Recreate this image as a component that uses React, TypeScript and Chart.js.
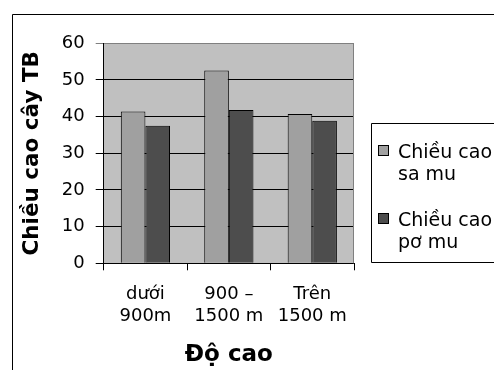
import React, { useEffect, useRef } from "react";
import { Chart, registerables } from "chart.js";

Chart.register(...registerables);

const categories: string[][] = [
  ["dưới", "900m"],
  ["900 –", "1500 m"],
  ["Trên", "1500 m"],
];
const samuValues = [41.4, 52.6, 40.7];
const pomuValues = [37.5, 41.8, 38.9];
const legendLines: string[][] = [
  ["Chiều cao", "sa mu"],
  ["Chiều cao", "pơ mu"],
];
const yTicks = [0, 10, 20, 30, 40, 50, 60];
const yTitle = "Chiều cao cây TB";
const xTitle = "Độ cao";

const FONT = "'DejaVu Sans', 'Liberation Sans', Arial, sans-serif";
const LIGHT = "#a0a0a0";
const DARK = "#4d4d4d";

const framePlugin = {
  id: "frame",
  beforeDraw(chart: any) {
    const { ctx, chartArea: a } = chart;
    ctx.save();
    ctx.fillStyle = "#ffffff";
    ctx.fillRect(0, 0, chart.width, chart.height);
    ctx.fillStyle = "#c0c0c0";
    ctx.fillRect(a.left, a.top, a.right - a.left, a.bottom - a.top);
    ctx.strokeStyle = "#000";
    ctx.lineWidth = 1;
    ctx.beginPath();
    ctx.moveTo(12.5, chart.height + 2);
    ctx.lineTo(12.5, 14.5);
    ctx.lineTo(chart.width + 2, 14.5);
    ctx.stroke();
    ctx.restore();
  },
  beforeDatasetsDraw(chart: any) {
    const { ctx, chartArea: a } = chart;
    ctx.save();
    ctx.strokeStyle = "#808080";
    ctx.lineWidth = 1;
    const x = Math.round(a.right) - 0.5;
    ctx.beginPath();
    ctx.moveTo(x, a.top);
    ctx.lineTo(x, a.bottom);
    ctx.stroke();
    ctx.restore();
  },
  afterDraw(chart: any) {
    const { ctx } = chart;
    ctx.save();
    ctx.strokeStyle = "#000";
    ctx.lineWidth = 1;
    ctx.beginPath();
    ctx.moveTo(chart.width + 2, 123.5);
    ctx.lineTo(371.5, 123.5);
    ctx.lineTo(371.5, 262.5);
    ctx.lineTo(chart.width + 2, 262.5);
    ctx.stroke();
    const sets = chart.data.datasets;
    const baseTops = [158, 226];
    ctx.font = `19px ${FONT}`;
    ctx.textBaseline = "alphabetic";
    ctx.textAlign = "left";
    sets.forEach((ds: any, i: number) => {
      const b = baseTops[i];
      ctx.fillStyle = ds.backgroundColor;
      ctx.fillRect(378, b - 13, 11, 11);
      ctx.strokeStyle = "#000";
      ctx.strokeRect(378.5, b - 12.5, 10, 10);
      ctx.fillStyle = "#000";
      legendLines[i].forEach((line, j) => {
        ctx.fillText(line, 398, b + j * 22);
      });
    });
    ctx.restore();
  },
};

export default function App() {
  const ref = useRef<HTMLCanvasElement | null>(null);
  useEffect(() => {
    if (!ref.current) return;
    const chart = new Chart(ref.current, {
      type: "bar",
      data: {
        labels: categories,
        datasets: [
          {
            label: legendLines[0].join(" "),
            data: samuValues,
            backgroundColor: LIGHT,
            borderColor: "#000",
            borderWidth: 1,
            categoryPercentage: 0.59,
            barPercentage: 1,
          },
          {
            label: legendLines[1].join(" "),
            data: pomuValues,
            backgroundColor: DARK,
            borderColor: "#000",
            borderWidth: 1,
            categoryPercentage: 0.59,
            barPercentage: 1,
          },
        ],
      },
      options: {
        responsive: false,
        animation: false,
        devicePixelRatio: 1,
        layout: { padding: { left: 0, top: 43.3, right: 140, bottom: 0 } },
        plugins: {
          legend: { display: false },
          tooltip: { enabled: false },
          title: { display: false },
        },
        scales: {
          x: {
            offset: true,
            grid: {
              offset: true,
              drawOnChartArea: false,
              drawTicks: true,
              tickLength: 7,
              color: "#000",
            },
            border: { display: true, color: "#000", width: 1 },
            ticks: {
              color: "#000",
              padding: 13,
              font: { family: FONT, size: 18, lineHeight: 1.22 },
              maxRotation: 0,
              autoSkip: false,
            },
            title: {
              display: true,
              text: xTitle,
              color: "#000",
              font: { family: FONT, size: 23, weight: "bold", lineHeight: 1.2 },
              padding: { top: 0, bottom: 1 },
            },
            afterFit(scale: any) {
              scale.height = 106.7;
            },
          },
          y: {
            min: 0,
            max: 60,
            afterBuildTicks(scale: any) {
              scale.ticks = yTicks.map((v) => ({ value: v }));
            },
            grid: {
              color: (c: any) => (c.tick && c.tick.value === 60 ? "#808080" : "#000"),
              tickLength: 8,
              drawTicks: true,
            },
            border: { display: true, color: "#000", width: 1 },
            ticks: {
              color: "#000",
              padding: 11,
              font: { family: FONT, size: 18 },
            },
            title: {
              display: true,
              text: yTitle,
              color: "#000",
              font: { family: FONT, size: 21.5, weight: "bold", lineHeight: 1.2 },
              padding: { top: 19.5, bottom: 0 },
            },
            afterFit(scale: any) {
              scale.width = 103.7;
            },
          },
        },
      },
      plugins: [framePlugin],
    } as any);
    return () => chart.destroy();
  }, []);
  return (
    <div style={{ position: "absolute", left: 0, top: 0, width: 494, height: 370 }}>
      <canvas ref={ref} width={494} height={370} style={{ display: "block", width: 494, height: 370 }} />
    </div>
  );
}
